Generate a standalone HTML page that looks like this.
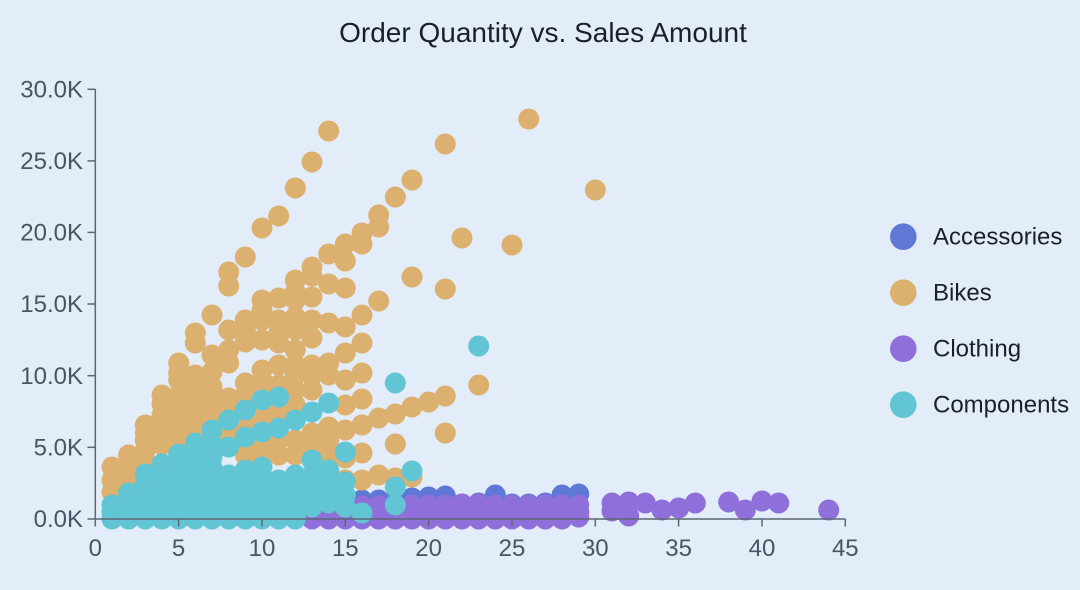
<!DOCTYPE html>
<html><head><meta charset="utf-8"><style>
html,body{margin:0;padding:0;background:#e3edf9;}
svg{display:block;}
.a{fill:#5f78d6}.b{fill:#dcb06e}.c{fill:#8f6fda}.d{fill:#61c5d3}
text{font-family:"Liberation Sans",Arial,sans-serif;}
</style></head><body>
<svg width="1080" height="590" viewBox="0 0 1080 590" xmlns="http://www.w3.org/2000/svg">
<rect width="1080" height="590" fill="#e3edf9"/>
<text x="543" y="42" font-size="28" fill="#1b1f2c" text-anchor="middle">Order Quantity vs. Sales Amount</text>
<!-- Accessories -->
<g class="a">
<circle cx="312" cy="506" r="10.5"/><circle cx="328.7" cy="504" r="10.5"/><circle cx="345.3" cy="502" r="10.5"/><circle cx="362" cy="500" r="10.5"/><circle cx="378.7" cy="500" r="10.5"/><circle cx="395.3" cy="500" r="10.5"/><circle cx="412" cy="498" r="10.5"/><circle cx="428.7" cy="497" r="10.5"/><circle cx="445.3" cy="496" r="10.5"/><circle cx="462" cy="504" r="10.5"/><circle cx="478.7" cy="503" r="10.5"/><circle cx="495.3" cy="495" r="10.5"/><circle cx="512" cy="504" r="10.5"/><circle cx="528.7" cy="504" r="10.5"/><circle cx="545.3" cy="503" r="10.5"/><circle cx="562" cy="495" r="10.5"/><circle cx="578.7" cy="494" r="10.5"/>
</g>
<!-- Bikes -->
<g class="b">
<circle cx="112" cy="467" r="10.5"/><circle cx="112" cy="480" r="10.5"/><circle cx="112" cy="492" r="10.5"/>
<circle cx="128.6" cy="455" r="10.5"/><circle cx="128.6" cy="466" r="10.5"/><circle cx="128.6" cy="480" r="10.5"/>
<circle cx="145.3" cy="425" r="10.5"/><circle cx="145.3" cy="433" r="10.5"/><circle cx="145.3" cy="440" r="10.5"/><circle cx="145.3" cy="450" r="10.5"/><circle cx="145.3" cy="462" r="10.5"/>
<circle cx="162" cy="395" r="10.5"/><circle cx="162" cy="404" r="10.5"/><circle cx="162" cy="415" r="10.5"/><circle cx="162" cy="425" r="10.5"/><circle cx="162" cy="433" r="10.5"/><circle cx="162" cy="445" r="10.5"/>
<circle cx="178.7" cy="363" r="10.5"/><circle cx="178.7" cy="373" r="10.5"/><circle cx="178.7" cy="380" r="10.5"/><circle cx="178.7" cy="395" r="10.5"/><circle cx="178.7" cy="411" r="10.5"/><circle cx="178.7" cy="422" r="10.5"/><circle cx="178.7" cy="432" r="10.5"/><circle cx="178.7" cy="442" r="10.5"/>
<circle cx="195.3" cy="333" r="10.5"/><circle cx="195.3" cy="343" r="10.5"/><circle cx="195.3" cy="375" r="10.5"/><circle cx="195.3" cy="390" r="10.5"/><circle cx="195.3" cy="403" r="10.5"/><circle cx="195.3" cy="415" r="10.5"/><circle cx="195.3" cy="425" r="10.5"/><circle cx="195.3" cy="435" r="10.5"/>
<circle cx="212" cy="315" r="10.5"/><circle cx="212" cy="355" r="10.5"/><circle cx="212" cy="372" r="10.5"/><circle cx="212" cy="387" r="10.5"/><circle cx="212" cy="400" r="10.5"/><circle cx="212" cy="412" r="10.5"/><circle cx="212" cy="422" r="10.5"/><circle cx="212" cy="440" r="10.5"/>
<circle cx="228.7" cy="272" r="10.5"/><circle cx="228.7" cy="286" r="10.5"/><circle cx="228.7" cy="330" r="10.5"/><circle cx="228.7" cy="350" r="10.5"/><circle cx="228.7" cy="363" r="10.5"/><circle cx="228.7" cy="398" r="10.5"/><circle cx="228.7" cy="412" r="10.5"/><circle cx="228.7" cy="425" r="10.5"/><circle cx="228.7" cy="440" r="10.5"/>
<circle cx="245.3" cy="257" r="10.5"/><circle cx="245.3" cy="320" r="10.5"/><circle cx="245.3" cy="330" r="10.5"/><circle cx="245.3" cy="342" r="10.5"/><circle cx="245.3" cy="383" r="10.5"/><circle cx="245.3" cy="395" r="10.5"/><circle cx="245.3" cy="410" r="10.5"/><circle cx="245.3" cy="422" r="10.5"/><circle cx="245.3" cy="445" r="10.5"/><circle cx="245.3" cy="455" r="10.5"/>
<circle cx="262" cy="228" r="10.5"/><circle cx="262" cy="300" r="10.5"/><circle cx="262" cy="310" r="10.5"/><circle cx="262" cy="320" r="10.5"/><circle cx="262" cy="340" r="10.5"/><circle cx="262" cy="370" r="10.5"/><circle cx="262" cy="380" r="10.5"/><circle cx="262" cy="392" r="10.5"/><circle cx="262" cy="410" r="10.5"/><circle cx="262" cy="420" r="10.5"/><circle cx="262" cy="445" r="10.5"/><circle cx="262" cy="455" r="10.5"/>
<circle cx="278.7" cy="216" r="10.5"/><circle cx="278.7" cy="298" r="10.5"/><circle cx="278.7" cy="320" r="10.5"/><circle cx="278.7" cy="333" r="10.5"/><circle cx="278.7" cy="343" r="10.5"/><circle cx="278.7" cy="365" r="10.5"/><circle cx="278.7" cy="385" r="10.5"/><circle cx="278.7" cy="400" r="10.5"/><circle cx="278.7" cy="412" r="10.5"/><circle cx="278.7" cy="440" r="10.5"/><circle cx="278.7" cy="455" r="10.5"/>
<circle cx="295.3" cy="188" r="10.5"/><circle cx="295.3" cy="280" r="10.5"/><circle cx="295.3" cy="292" r="10.5"/><circle cx="295.3" cy="300" r="10.5"/><circle cx="295.3" cy="317" r="10.5"/><circle cx="295.3" cy="330" r="10.5"/><circle cx="295.3" cy="350" r="10.5"/><circle cx="295.3" cy="365" r="10.5"/><circle cx="295.3" cy="375" r="10.5"/><circle cx="295.3" cy="390" r="10.5"/><circle cx="295.3" cy="405" r="10.5"/><circle cx="295.3" cy="440" r="10.5"/><circle cx="295.3" cy="455" r="10.5"/>
<circle cx="312" cy="162" r="10.5"/><circle cx="312" cy="267" r="10.5"/><circle cx="312" cy="276" r="10.5"/><circle cx="312" cy="297" r="10.5"/><circle cx="312" cy="320" r="10.5"/><circle cx="312" cy="338" r="10.5"/><circle cx="312" cy="365" r="10.5"/><circle cx="312" cy="375" r="10.5"/><circle cx="312" cy="390" r="10.5"/><circle cx="312" cy="433" r="10.5"/><circle cx="312" cy="445" r="10.5"/><circle cx="312" cy="455" r="10.5"/>
<circle cx="328.7" cy="131" r="10.5"/><circle cx="328.7" cy="254" r="10.5"/><circle cx="328.7" cy="284" r="10.5"/><circle cx="328.7" cy="323" r="10.5"/><circle cx="328.7" cy="363" r="10.5"/><circle cx="328.7" cy="375" r="10.5"/><circle cx="328.7" cy="427" r="10.5"/><circle cx="328.7" cy="440" r="10.5"/><circle cx="328.7" cy="455" r="10.5"/>
<circle cx="345.3" cy="244" r="10.5"/><circle cx="345.3" cy="261" r="10.5"/><circle cx="345.3" cy="288" r="10.5"/><circle cx="345.3" cy="327" r="10.5"/><circle cx="345.3" cy="353" r="10.5"/><circle cx="345.3" cy="380" r="10.5"/><circle cx="345.3" cy="405" r="10.5"/><circle cx="345.3" cy="430" r="10.5"/><circle cx="345.3" cy="458" r="10.5"/><circle cx="345.3" cy="480" r="10.5"/>
<circle cx="362" cy="233" r="10.5"/><circle cx="362" cy="244" r="10.5"/><circle cx="362" cy="315" r="10.5"/><circle cx="362" cy="343" r="10.5"/><circle cx="362" cy="373" r="10.5"/><circle cx="362" cy="399" r="10.5"/><circle cx="362" cy="425" r="10.5"/><circle cx="362" cy="453" r="10.5"/><circle cx="362" cy="480" r="10.5"/>
<circle cx="378.7" cy="215" r="10.5"/><circle cx="378.7" cy="227" r="10.5"/><circle cx="378.7" cy="301" r="10.5"/><circle cx="378.7" cy="418" r="10.5"/><circle cx="378.7" cy="475" r="10.5"/>
<circle cx="395.3" cy="197" r="10.5"/><circle cx="395.3" cy="414" r="10.5"/><circle cx="395.3" cy="444" r="10.5"/><circle cx="395.3" cy="478" r="10.5"/>
<circle cx="412" cy="180" r="10.5"/><circle cx="412" cy="277" r="10.5"/><circle cx="412" cy="407" r="10.5"/><circle cx="412" cy="477" r="10.5"/>
<circle cx="428.7" cy="402" r="10.5"/>
<circle cx="445.3" cy="144" r="10.5"/><circle cx="445.3" cy="289" r="10.5"/><circle cx="445.3" cy="396" r="10.5"/><circle cx="445.3" cy="433" r="10.5"/>
<circle cx="462" cy="238" r="10.5"/>
<circle cx="478.7" cy="385" r="10.5"/>
<circle cx="512" cy="245" r="10.5"/>
<circle cx="528.7" cy="119" r="10.5"/>
<circle cx="595.3" cy="190" r="10.5"/>
</g>
<!-- Clothing -->
<g class="c">
<circle cx="312" cy="512" r="10.5"/><circle cx="312" cy="519" r="10.5"/>
<circle cx="328.7" cy="512" r="10.5"/><circle cx="328.7" cy="519" r="10.5"/>
<circle cx="345.3" cy="512" r="10.5"/><circle cx="345.3" cy="519" r="10.5"/>
<circle cx="362" cy="506" r="10.5"/><circle cx="362" cy="512" r="10.5"/><circle cx="362" cy="519" r="10.5"/>
<circle cx="378.7" cy="506" r="10.5"/><circle cx="378.7" cy="512" r="10.5"/><circle cx="378.7" cy="519" r="10.5"/>
<circle cx="395.3" cy="506" r="10.5"/><circle cx="395.3" cy="512" r="10.5"/><circle cx="395.3" cy="519" r="10.5"/>
<circle cx="412" cy="505" r="10.5"/><circle cx="412" cy="512" r="10.5"/><circle cx="412" cy="519" r="10.5"/>
<circle cx="428.7" cy="505" r="10.5"/><circle cx="428.7" cy="512" r="10.5"/><circle cx="428.7" cy="519" r="10.5"/>
<circle cx="445.3" cy="505" r="10.5"/><circle cx="445.3" cy="512" r="10.5"/><circle cx="445.3" cy="519" r="10.5"/>
<circle cx="462" cy="504" r="10.5"/><circle cx="462" cy="512" r="10.5"/><circle cx="462" cy="519" r="10.5"/>
<circle cx="478.7" cy="504" r="10.5"/><circle cx="478.7" cy="512" r="10.5"/><circle cx="478.7" cy="519" r="10.5"/>
<circle cx="495.3" cy="505" r="10.5"/><circle cx="495.3" cy="512" r="10.5"/><circle cx="495.3" cy="519" r="10.5"/>
<circle cx="512" cy="505" r="10.5"/><circle cx="512" cy="512" r="10.5"/><circle cx="512" cy="519" r="10.5"/>
<circle cx="528.7" cy="505" r="10.5"/><circle cx="528.7" cy="512" r="10.5"/><circle cx="528.7" cy="519" r="10.5"/>
<circle cx="545.3" cy="505" r="10.5"/><circle cx="545.3" cy="512" r="10.5"/><circle cx="545.3" cy="519" r="10.5"/>
<circle cx="562" cy="505" r="10.5"/><circle cx="562" cy="512" r="10.5"/><circle cx="562" cy="519" r="10.5"/>
<circle cx="578.7" cy="505" r="10.5"/><circle cx="578.7" cy="512" r="10.5"/><circle cx="578.7" cy="517" r="10.5"/>
<circle cx="612" cy="503" r="10.5"/><circle cx="612" cy="511" r="10.5"/>
<circle cx="628.7" cy="502" r="10.5"/><circle cx="628.7" cy="516" r="10.5"/>
<circle cx="645.3" cy="503" r="10.5"/><circle cx="662" cy="510" r="10.5"/><circle cx="678.7" cy="508" r="10.5"/><circle cx="695.3" cy="503" r="10.5"/>
<circle cx="728.7" cy="502" r="10.5"/><circle cx="745.3" cy="510" r="10.5"/><circle cx="762" cy="501" r="10.5"/><circle cx="778.7" cy="503" r="10.5"/><circle cx="828.7" cy="510" r="10.5"/>
</g>
<!-- Components -->
<g class="d">
<circle cx="112" cy="505" r="10.5"/><circle cx="112" cy="512" r="10.5"/><circle cx="112" cy="519" r="10.5"/>
<circle cx="128.6" cy="493" r="10.5"/><circle cx="128.6" cy="505" r="10.5"/><circle cx="128.6" cy="512" r="10.5"/><circle cx="128.6" cy="519" r="10.5"/>
<circle cx="145.3" cy="474" r="10.5"/><circle cx="145.3" cy="485" r="10.5"/><circle cx="145.3" cy="495" r="10.5"/><circle cx="145.3" cy="507" r="10.5"/><circle cx="145.3" cy="519" r="10.5"/>
<circle cx="162" cy="464" r="10.5"/><circle cx="162" cy="475" r="10.5"/><circle cx="162" cy="487" r="10.5"/><circle cx="162" cy="500" r="10.5"/><circle cx="162" cy="510" r="10.5"/><circle cx="162" cy="519" r="10.5"/>
<circle cx="178.7" cy="454" r="10.5"/><circle cx="178.7" cy="465" r="10.5"/><circle cx="178.7" cy="477" r="10.5"/><circle cx="178.7" cy="489" r="10.5"/><circle cx="178.7" cy="500" r="10.5"/><circle cx="178.7" cy="510" r="10.5"/><circle cx="178.7" cy="519" r="10.5"/>
<circle cx="195.3" cy="443" r="10.5"/><circle cx="195.3" cy="455" r="10.5"/><circle cx="195.3" cy="466" r="10.5"/><circle cx="195.3" cy="478" r="10.5"/><circle cx="195.3" cy="490" r="10.5"/><circle cx="195.3" cy="500" r="10.5"/><circle cx="195.3" cy="510" r="10.5"/><circle cx="195.3" cy="519" r="10.5"/>
<circle cx="212" cy="430" r="10.5"/><circle cx="212" cy="444" r="10.5"/><circle cx="212" cy="457" r="10.5"/><circle cx="212" cy="468" r="10.5"/><circle cx="212" cy="478" r="10.5"/><circle cx="212" cy="490" r="10.5"/><circle cx="212" cy="500" r="10.5"/><circle cx="212" cy="510" r="10.5"/><circle cx="212" cy="519" r="10.5"/>
<circle cx="228.7" cy="420" r="10.5"/><circle cx="228.7" cy="447" r="10.5"/><circle cx="228.7" cy="475" r="10.5"/><circle cx="228.7" cy="485" r="10.5"/><circle cx="228.7" cy="495" r="10.5"/><circle cx="228.7" cy="505" r="10.5"/><circle cx="228.7" cy="512" r="10.5"/><circle cx="228.7" cy="519" r="10.5"/>
<circle cx="245.3" cy="410" r="10.5"/><circle cx="245.3" cy="437" r="10.5"/><circle cx="245.3" cy="470" r="10.5"/><circle cx="245.3" cy="480" r="10.5"/><circle cx="245.3" cy="490" r="10.5"/><circle cx="245.3" cy="500" r="10.5"/><circle cx="245.3" cy="510" r="10.5"/><circle cx="245.3" cy="519" r="10.5"/>
<circle cx="262" cy="400" r="10.5"/><circle cx="262" cy="432" r="10.5"/><circle cx="262" cy="467" r="10.5"/><circle cx="262" cy="477" r="10.5"/><circle cx="262" cy="487" r="10.5"/><circle cx="262" cy="497" r="10.5"/><circle cx="262" cy="508" r="10.5"/><circle cx="262" cy="519" r="10.5"/>
<circle cx="278.7" cy="397" r="10.5"/><circle cx="278.7" cy="428" r="10.5"/><circle cx="278.7" cy="480" r="10.5"/><circle cx="278.7" cy="490" r="10.5"/><circle cx="278.7" cy="500" r="10.5"/><circle cx="278.7" cy="510" r="10.5"/><circle cx="278.7" cy="519" r="10.5"/>
<circle cx="295.3" cy="420" r="10.5"/><circle cx="295.3" cy="475" r="10.5"/><circle cx="295.3" cy="485" r="10.5"/><circle cx="295.3" cy="495" r="10.5"/><circle cx="295.3" cy="505" r="10.5"/><circle cx="295.3" cy="512" r="10.5"/><circle cx="295.3" cy="519" r="10.5"/>
<circle cx="312" cy="412" r="10.5"/><circle cx="312" cy="460" r="10.5"/><circle cx="312" cy="475" r="10.5"/><circle cx="312" cy="487" r="10.5"/><circle cx="312" cy="497" r="10.5"/><circle cx="312" cy="507" r="10.5"/>
<circle cx="328.7" cy="403" r="10.5"/><circle cx="328.7" cy="470" r="10.5"/><circle cx="328.7" cy="482" r="10.5"/><circle cx="328.7" cy="493" r="10.5"/><circle cx="328.7" cy="503" r="10.5"/>
<circle cx="345.3" cy="452" r="10.5"/><circle cx="345.3" cy="482" r="10.5"/><circle cx="345.3" cy="495" r="10.5"/><circle cx="345.3" cy="507" r="10.5"/>
<circle cx="362" cy="513" r="10.5"/>
<circle cx="395.3" cy="383" r="10.5"/><circle cx="395.3" cy="487" r="10.5"/><circle cx="395.3" cy="505" r="10.5"/>
<circle cx="412" cy="471" r="10.5"/>
<circle cx="478.7" cy="346" r="10.5"/>
</g>
<!-- axes -->
<g stroke="#5d6774" stroke-width="1.5" fill="none">
<line x1="95.3" y1="89" x2="95.3" y2="519.5"/>
<line x1="95.3" y1="519" x2="845.5" y2="519"/>
<line x1="87.5" y1="89.3" x2="95.3" y2="89.3"/>
<line x1="87.5" y1="160.9" x2="95.3" y2="160.9"/>
<line x1="87.5" y1="232.4" x2="95.3" y2="232.4"/>
<line x1="87.5" y1="304" x2="95.3" y2="304"/>
<line x1="87.5" y1="375.7" x2="95.3" y2="375.7"/>
<line x1="87.5" y1="447.3" x2="95.3" y2="447.3"/>
<line x1="87.5" y1="519" x2="95.3" y2="519"/>
<line x1="95.3" y1="519" x2="95.3" y2="526.5"/>
<line x1="178.6" y1="519" x2="178.6" y2="526.5"/>
<line x1="262" y1="519" x2="262" y2="526.5"/>
<line x1="345.3" y1="519" x2="345.3" y2="526.5"/>
<line x1="428.6" y1="519" x2="428.6" y2="526.5"/>
<line x1="512" y1="519" x2="512" y2="526.5"/>
<line x1="595.3" y1="519" x2="595.3" y2="526.5"/>
<line x1="678.6" y1="519" x2="678.6" y2="526.5"/>
<line x1="762" y1="519" x2="762" y2="526.5"/>
<line x1="845.3" y1="519" x2="845.3" y2="526.5"/>
</g>
<g font-size="24" fill="#4a5463" text-anchor="end">
<text x="83" y="97.5">30.0K</text>
<text x="83" y="169">25.0K</text>
<text x="83" y="240.6">20.0K</text>
<text x="83" y="312.2">15.0K</text>
<text x="83" y="383.9">10.0K</text>
<text x="83" y="455.5">5.0K</text>
<text x="83" y="527">0.0K</text>
</g>
<g font-size="24" fill="#4a5463" text-anchor="middle">
<text x="95.3" y="556">0</text>
<text x="178.6" y="556">5</text>
<text x="262" y="556">10</text>
<text x="345.3" y="556">15</text>
<text x="428.6" y="556">20</text>
<text x="512" y="556">25</text>
<text x="595.3" y="556">30</text>
<text x="678.6" y="556">35</text>
<text x="762" y="556">40</text>
<text x="845.3" y="556">45</text>
</g>
<!-- legend -->
<circle cx="903.3" cy="236.7" r="13.3" class="a"/>
<circle cx="903.3" cy="292.7" r="13.3" class="b"/>
<circle cx="903.3" cy="348.7" r="13.3" class="c"/>
<circle cx="903.3" cy="404.7" r="13.3" class="d"/>
<g font-size="24" fill="#1b1f2c">
<text x="933" y="244.3">Accessories</text>
<text x="933" y="300.3">Bikes</text>
<text x="933" y="356.3">Clothing</text>
<text x="933" y="412.3">Components</text>
</g>
</svg>
</body></html>
